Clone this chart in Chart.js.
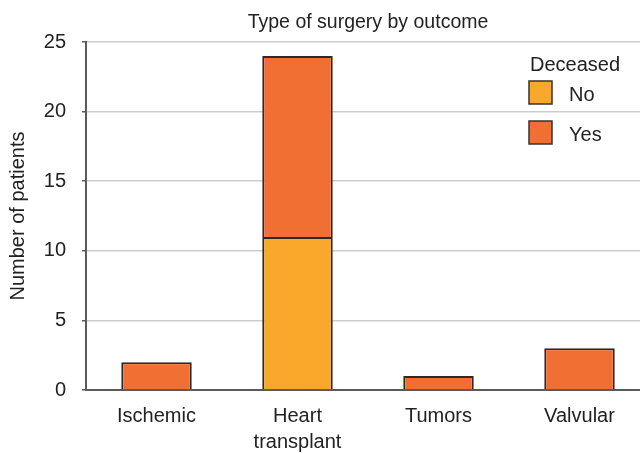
<!DOCTYPE html>
<html>
<head>
<meta charset="utf-8">
<title>Type of surgery by outcome</title>
<script src="https://cdn.jsdelivr.net/npm/chart.js@4.4.1/dist/chart.umd.min.js"></script>
<style>
  html, body { margin: 0; padding: 0; background: #ffffff; overflow: hidden; width: 640px; height: 453px; }
  canvas { display: block; }
</style>
</head>
<body>
<canvas id="chart" width="650" height="453"></canvas>
<script>
// Surgery categories (multi-line labels where the name wraps)
const categories = [['Ischemic'], ['Heart', 'transplant'], ['Tumors'], ['Valvular']];
// Patients per category, split by outcome
const deceasedNo  = [null, 11, null, null];
const deceasedYes = [2, 13, 1, 3];
const seriesNames = ['No', 'Yes'];
const seriesColors = ['#f9a82b', '#f26f33'];
// Value axis
const yMin = 0, yMax = 25, yStep = 5;
const chartTitle = 'Type of surgery by outcome';
const yAxisTitle = 'Number of patients';
const legendTitle = 'Deceased';

const FONT = '"Liberation Sans", Arial, Helvetica, sans-serif';
const FONT_SIZE = 20;
const TEXT = '#222222';
const AXIS = '#5a5a5a';
const GRID = '#cccccc';

// Title centred over the plot area and a boxed legend in its top-right corner
const decorations = {
  id: 'decorations',
  afterDraw(chart) {
    const { ctx, chartArea } = chart;
    ctx.save();
    ctx.fillStyle = TEXT;
    ctx.font = '19.5px ' + FONT;
    ctx.textBaseline = 'alphabetic';
    ctx.textAlign = 'center';
    ctx.fillText(chartTitle, (chartArea.left + chartArea.right) / 2, 28);

    const lx = chartArea.right - 121;
    ctx.font = FONT_SIZE + 'px ' + FONT;
    ctx.textAlign = 'left';
    ctx.fillText(legendTitle, lx + 1, 71);
    chart.data.datasets.forEach((ds, i) => {
      const by = 81 + i * 40;
      ctx.fillStyle = ds.backgroundColor;
      ctx.fillRect(lx, by, 23, 23);
      ctx.strokeStyle = '#333333';
      ctx.lineWidth = 1.5;
      ctx.strokeRect(lx, by, 23, 23);
      ctx.fillStyle = TEXT;
      ctx.fillText(ds.label, lx + 40, by + 20);
    });
    ctx.restore();
  }
};

new Chart(document.getElementById('chart'), {
  type: 'bar',
  data: {
    labels: categories,
    datasets: [
      { label: seriesNames[0], data: deceasedNo, backgroundColor: seriesColors[0] },
      { label: seriesNames[1], data: deceasedYes, backgroundColor: seriesColors[1] }
    ]
  },
  options: {
    responsive: false,
    animation: false,
    devicePixelRatio: 1,
    layout: { padding: { top: 42, left: 0, right: 0, bottom: 0 } },
    datasets: {
      bar: {
        borderColor: '#2a2a2a',
        borderWidth: 2,
        barPercentage: 0.5,
        categoryPercentage: 1.0
      }
    },
    plugins: {
      legend: { display: false },
      title: { display: false },
      tooltip: { enabled: false }
    },
    scales: {
      x: {
        stacked: true,
        afterFit(scale) { scale.height = 63; },
        grid: { display: false, drawTicks: false },
        border: { display: true, color: AXIS, width: 2 },
        ticks: {
          color: TEXT,
          padding: 13,
          font: { family: FONT, size: FONT_SIZE, lineHeight: 1.3 }
        }
      },
      y: {
        stacked: true,
        min: yMin,
        max: yMax,
        afterFit(scale) { scale.width = 86; },
        grid: {
          color: (c) => (c.tick && c.tick.value === 0 ? AXIS : GRID),
          lineWidth: 1.5,
          drawTicks: true,
          tickLength: 4,
          tickColor: AXIS,
          tickWidth: 1.5
        },
        border: { display: true, color: AXIS, width: 2 },
        ticks: {
          stepSize: yStep,
          color: TEXT,
          padding: 16,
          font: { family: FONT, size: FONT_SIZE }
        },
        title: {
          display: true,
          text: yAxisTitle,
          color: TEXT,
          padding: { top: 6, bottom: 0 },
          font: { family: FONT, size: FONT_SIZE }
        }
      }
    }
  },
  plugins: [decorations]
});
</script>
</body>
</html>
